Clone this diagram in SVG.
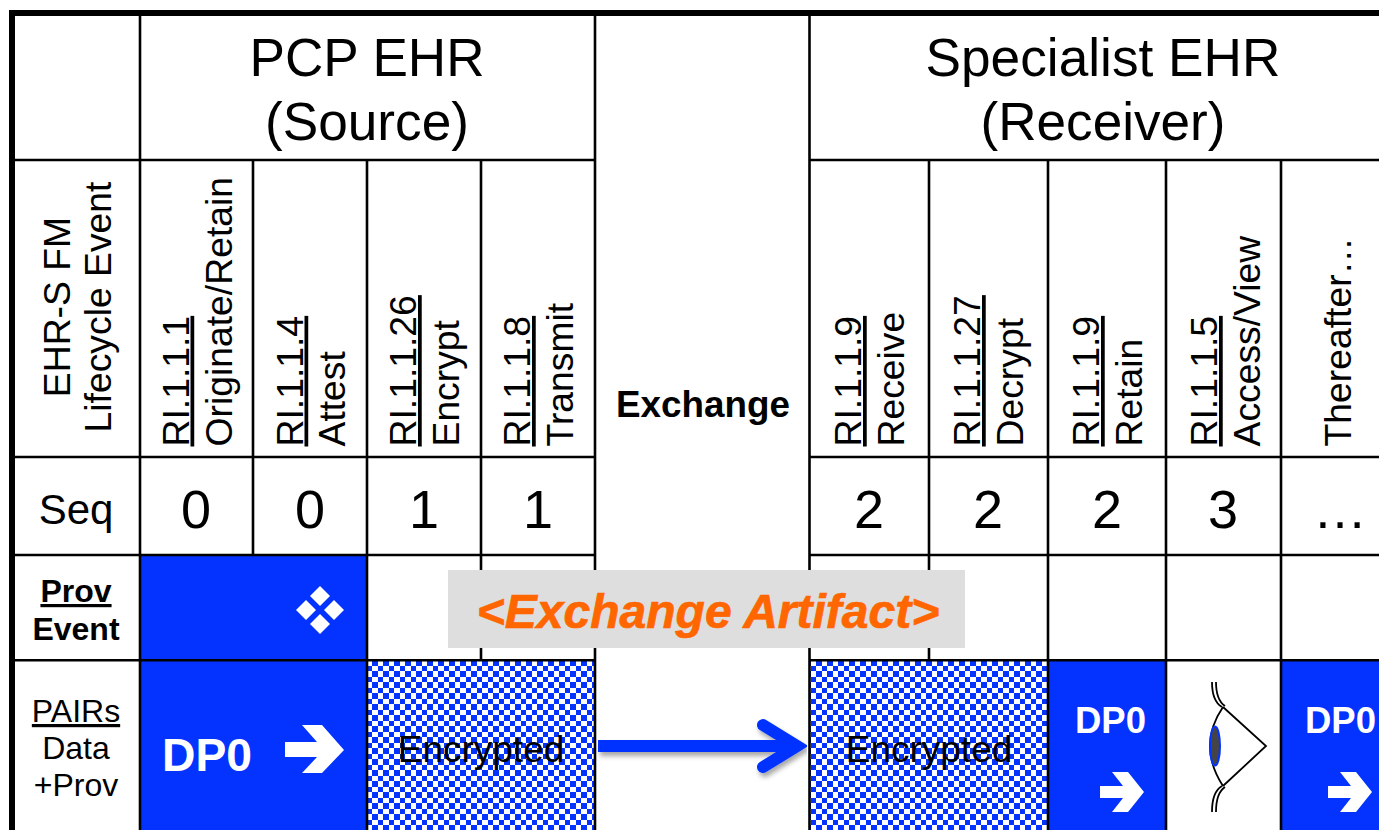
<svg xmlns="http://www.w3.org/2000/svg" width="1379" height="830" viewBox="0 0 1379 830">
<style>
text{font-family:"Liberation Sans",Arial,sans-serif;fill:#000}
.g{stroke:#000;stroke-width:2.6;fill:none}
.b{fill:#0433ff}
.w{fill:#fff}
.c{text-anchor:middle}
.r{font-size:37.3px}
.u{text-decoration:underline;text-decoration-thickness:2.5px;text-underline-offset:3px}
.bd{font-weight:bold}
</style>
<defs>
<pattern id="chk" width="11" height="11" patternUnits="userSpaceOnUse" x="372" y="660">
<rect width="11" height="11" fill="#fff"/>
<rect width="6" height="6" fill="#0433ff"/>
<rect x="6" y="6" width="5" height="5" fill="#0433ff"/>
</pattern>
<pattern id="chk2" width="11" height="11" patternUnits="userSpaceOnUse" x="816" y="660">
<rect width="11" height="11" fill="#fff"/>
<rect width="6" height="6" fill="#0433ff"/>
<rect x="6" y="6" width="5" height="5" fill="#0433ff"/>
</pattern>
<polygon id="arrow" points="0,-6 23,-6 12,-20 28,-20 44,0 28,20 12,20 23,6 0,6" fill="#fff"/>
<filter id="shadow" x="-5%" y="-30%" width="110%" height="170%"><feDropShadow dx="2" dy="4" stdDeviation="2.5" flood-color="#000" flood-opacity=".35"/></filter>
</defs>
<rect width="1379" height="830" fill="#fff"/>
<g id="fills">
<rect class="b" x="140" y="555" width="227" height="105"/>
<rect class="b" x="140" y="660" width="227" height="170"/>
<rect fill="url(#chk)" x="367" y="660" width="228" height="170"/>
<rect fill="url(#chk2)" x="809" y="660" width="239" height="170"/>
<rect class="b" x="1048" y="660" width="118" height="170"/>
<rect class="b" x="1281" y="660" width="98" height="170"/>
</g>
<g id="grid" class="g">
<path d="M140 13V830M253 160V555M367 160V830M481 160V660M595 13V830M809.5 13V830M929 160V660M1048 160V830M1166 160V830M1281 160V830"/>
<path d="M12 160H595M809 160H1379M12 457H595M809 457H1379M12 555H595M809 555H1379M12 660.3H595M809 660.3H1379"/>
<path d="M12 830V13H1379" stroke-width="6"/>
</g>
<g id="headers">
<text class="c" x="367" y="76" font-size="53" textLength="235" lengthAdjust="spacingAndGlyphs">PCP EHR</text>
<text class="c" x="367" y="140" font-size="53" textLength="204" lengthAdjust="spacingAndGlyphs">(Source)</text>
<text class="c" x="1103" y="76" font-size="53" textLength="355" lengthAdjust="spacingAndGlyphs">Specialist EHR</text>
<text class="c" x="1103" y="140" font-size="53" textLength="245" lengthAdjust="spacingAndGlyphs">(Receiver)</text>
<text class="c bd" x="703" y="417" font-size="36.8">Exchange</text>
</g>
<g id="lifecycle" class="r">
<text class="c" transform="translate(70 307) rotate(-90)">EHR-S FM</text>
<text class="c" transform="translate(111 307) rotate(-90)">Lifecycle Event</text>
<text class="u" transform="translate(188.5 446.5) rotate(-90)">RI.1.1.1</text>
<text transform="translate(231.5 446.5) rotate(-90)">Originate/Retain</text>
<text class="u" transform="translate(302.5 446.5) rotate(-90)">RI.1.1.4</text>
<text transform="translate(345 446.5) rotate(-90)">Attest</text>
<text class="u" transform="translate(416 446.5) rotate(-90)">RI.1.1.26</text>
<text transform="translate(459 446.5) rotate(-90)">Encrypt</text>
<text class="u" transform="translate(530 446.5) rotate(-90)">RI.1.1.8</text>
<text transform="translate(573 446.5) rotate(-90)">Transmit</text>
<text class="u" transform="translate(861 446.5) rotate(-90)">RI.1.1.9</text>
<text transform="translate(904 446.5) rotate(-90)">Receive</text>
<text class="u" transform="translate(980 446.5) rotate(-90)">RI.1.1.27</text>
<text transform="translate(1023 446.5) rotate(-90)">Decrypt</text>
<text class="u" transform="translate(1099 446.5) rotate(-90)">RI.1.1.9</text>
<text transform="translate(1142 446.5) rotate(-90)">Retain</text>
<text class="u" transform="translate(1217 446.5) rotate(-90)">RI.1.1.5</text>
<text transform="translate(1260 446.5) rotate(-90)">Access/View</text>
<text transform="translate(1351 446.5) rotate(-90)">Thereafter…</text>
</g>
<g id="seq">
<text class="c" x="76" y="524" font-size="42">Seq</text>
<g font-size="54">
<text class="c" x="196" y="528">0</text>
<text class="c" x="310" y="528">0</text>
<text class="c" x="424" y="528">1</text>
<text class="c" x="538" y="528">1</text>
<text class="c" x="869" y="528">2</text>
<text class="c" x="988" y="528">2</text>
<text class="c" x="1107" y="528">2</text>
<text class="c" x="1223" y="528">3</text>
<text class="c" x="1340" y="528">…</text>
</g>
</g>
<g id="row-labels">
<text class="c bd u" x="76" y="602" font-size="32">Prov</text>
<text class="c bd" x="76" y="640" font-size="32">Event</text>
<text class="c u" x="76" y="722" font-size="32">PAIRs</text>
<text class="c" x="76" y="759" font-size="32">Data</text>
<text class="c" x="76" y="796" font-size="32">+Prov</text>
</g>
<g id="prov-event">
<polygon class="w" points="320,586 330,596 320,606 310,596"/>
<polygon class="w" points="306,600 316,610 306,620 296,610"/>
<polygon class="w" points="334,600 344,610 334,620 324,610"/>
<polygon class="w" points="320,614 330,624 320,634 310,624"/>
</g>
<g id="dp0-source">
<text class="bd" x="162" y="771" font-size="46" textLength="90" lengthAdjust="spacingAndGlyphs" style="fill:#fff">DP0</text>
<polygon class="w" points="285,742 317,742 302,725 322,725 344,750 322,773 302,773 317,757 285,757"/>
</g>
<g id="encrypted">
<text class="c" x="481" y="762" font-size="37">Encrypted</text>
<text class="c" x="929" y="762" font-size="37">Encrypted</text>
</g>
<g id="connectors" filter="url(#shadow)">
<path d="M763 725L797 746L763 767" stroke="#0433ff" stroke-width="12" fill="none" stroke-linecap="round" stroke-linejoin="miter"/>
<path d="M598 746H795" stroke="#0433ff" stroke-width="12" fill="none"/>
</g>
<g id="dp0-retain">
<text class="bd" x="1075" y="733" font-size="36" textLength="71" lengthAdjust="spacingAndGlyphs" style="fill:#fff">DP0</text>
<use href="#arrow" x="1100" y="792"/>
</g>
<g id="eye" fill="none" stroke="#000" stroke-width="1.8">
<path d="M1223 707L1266 746L1223 786"/>
<path d="M1223 707Q1210 726 1210 746Q1210 766 1223 786"/>
<path d="M1212 682C1212 695 1215 703 1222 707M1216 682C1216 695 1219 702 1225 706"/>
<path d="M1212 812C1212 799 1215 790 1222 786M1216 812C1216 799 1219 791 1225 787"/>
<ellipse cx="1215" cy="746" rx="5" ry="19.5" fill="#444" stroke="#0433ff" stroke-width="2"/>
</g>
<g id="dp0-after">
<text class="bd" x="1305" y="733" font-size="36" textLength="71" lengthAdjust="spacingAndGlyphs" style="fill:#fff">DP0</text>
<use href="#arrow" x="1328" y="792"/>
</g>
<g id="artifact">
<rect x="448" y="570" width="517" height="78" fill="#dedede"/>
<text class="c bd" x="708" y="628" font-size="48" font-style="italic" stroke="#ff6600" stroke-width=".7" style="fill:#ff6600">&lt;Exchange Artifact&gt;</text>
</g>
</svg>
